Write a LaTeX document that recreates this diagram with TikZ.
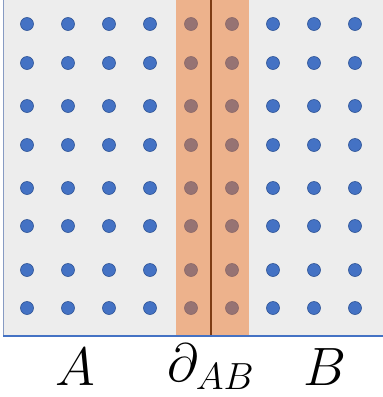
\RequirePackage{fix-cm}
\documentclass[tikz,border=0pt]{standalone}
\definecolor{dotblue}{RGB}{68,114,196}
\definecolor{dotblueedge}{RGB}{47,85,151}
\definecolor{dotbrown}{RGB}{150,115,115}
\definecolor{dotbrownedge}{RGB}{140,105,105}
\definecolor{stripfill}{RGB}{237,178,140}
\definecolor{cutline}{RGB}{125,60,20}
\definecolor{panelgrey}{RGB}{237,237,237}
\definecolor{leftedge}{RGB}{135,155,195}
\tikzset{
  dot-blue/.style={
    circle,
    fill=dotblue,
    draw=dotblueedge,
    line width=0.6pt,
    minimum size=13pt,
    inner sep=0pt
  },
  dot-brown/.style={
    circle,
    fill=dotbrown,
    draw=dotbrownedge,
    line width=0.6pt,
    minimum size=13pt,
    inner sep=0pt
  },
  region-label/.style={
    inner sep=0pt,
    font=\fontsize{54}{60}\selectfont
  }
}

\begin{document}
\begin{tikzpicture}[x=1pt,y=-1pt]
  \useasboundingbox (0,0) rectangle (383,397);
  % panel and boundary strip
  \fill[panelgrey] (3,0) rectangle (383,336);
  \fill[stripfill] (176,0) rectangle (249,336);
  \draw[cutline, line width=1.6pt] (211,0) -- (211,336);
  \draw[leftedge, line width=1.2pt] (3.5,0) -- (3.5,336);
  \draw[dotblue, line width=1.2pt] (3,336) -- (383,336);
  % lattice sites
  \foreach \y [count=\r] in {24,63,106,145,188,226,270,308} {
    \foreach \x [count=\c] in {27,68,109,150,273,314,355} {
      \node[dot-blue] (s-\r-\c) at (\x,\y) {};
    }
    \foreach \x [count=\c] in {191,232} {
      \node[dot-brown] (b-\r-\c) at (\x,\y) {};
    }
  }
  % labels
  \node[region-label] (lab-a) at (75,367) {$A$};
  \node[region-label] (lab-ab) at (211,367) {$\partial_{AB}$};
  \node[region-label] (lab-b) at (325,367) {$B$};
\end{tikzpicture}
\end{document}
